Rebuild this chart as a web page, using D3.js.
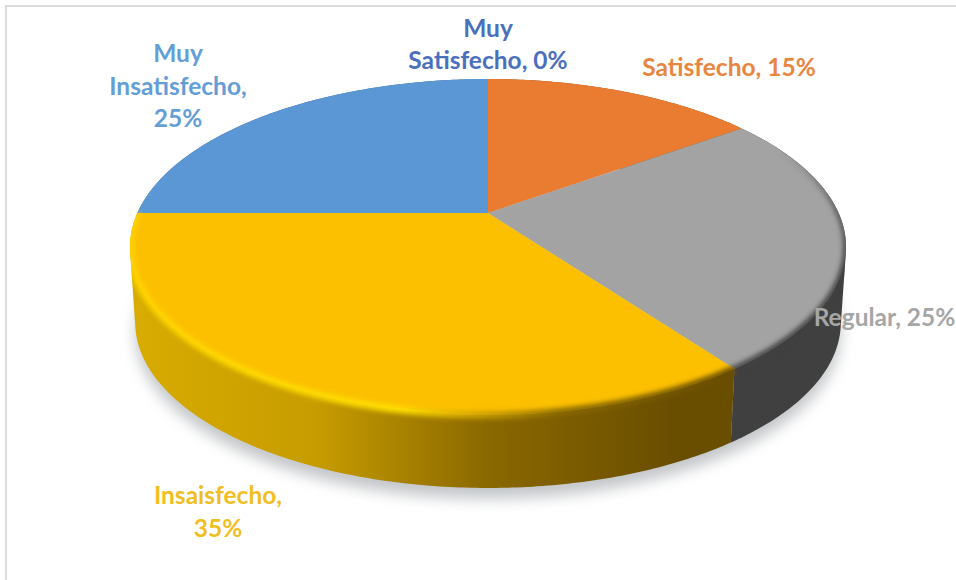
<!DOCTYPE html>
<html>
<head>
<meta charset="utf-8">
<style>
  html, body { margin: 0; padding: 0; background: #fff; overflow: hidden; }
  svg { display: block; }
  text { font-family: Lato, "Open Sans", sans-serif; font-weight: 700; }
</style>
<script src="https://cdn.jsdelivr.net/npm/d3@7/dist/d3.min.js"></script>
</head>
<body>
<svg id="chart" width="956" height="580"></svg>
<script>
// Survey result: satisfaction level, percent of responses
const categories = ["Muy Satisfecho", "Satisfecho", "Regular", "Insaisfecho", "Muy Insatisfecho"];
const percentages = [0, 15, 25, 35, 25];

// Slice and label colours, in category order
const sliceColors = ["#4472c4", "#e97c30", "#a3a3a3", "#fcc000", "#5b97d5"];
const labelColors = ["#4a6fbd", "#e8853f", "#a6a6a6", "#f1be22", "#649ed6"];
// Shading along the outer wall, left to right
const wallRamps = [
  ["#2f4f88", "#2f4f88"],
  ["#8a4a1c", "#8a4a1c"],
  ["#4a4a4a", "#474747", "#404040", "#404040"],
  ["#d8ac00", "#c79c00", "#8a6800", "#6a4e00"],
  ["#3f6a96", "#3f6a96"]
];

// Label placement: centre x, first baseline, words per line
const labelPlacement = [
  { x: 488, y: 36.5, words: [1, 2] },
  { x: 729, y: 76, words: [2] },
  { x: 884.5, y: 326, words: [2] },
  { x: 218, y: 504, words: [1, 1] },
  { x: 178, y: 62, words: [1, 1, 1] }
];
const lineHeight = 32.5;

const svg = d3.select("#chart");
const defs = svg.append("defs");

// Flat circle seen in perspective: far side shrinks, near side grows
const tilt = 0.2024;
const topFace = { cx: 488, cy: 213, a: 350.6, b: 161.1 };
const baseRim = { cx: 488, cy: 289, a: 345.5, b: 158.7 };
const project = (angle, g) => {
  const u = Math.sin(angle), v = Math.cos(angle), w = 1 + tilt * v;
  return [g.cx + g.a * u / w, g.cy - g.b * v / w];
};
const arcPoints = (a0, a1, g) => {
  const n = Math.max(1, Math.ceil(Math.abs(a1 - a0) / 0.01));
  return d3.range(n + 1).map(i => project(a0 + (a1 - a0) * i / n, g));
};
const line = d3.line();

const slices = d3.pie().sort(null).value(d => d)(percentages);
const fullCircle = g => line(arcPoints(0, 2 * Math.PI, g)) + "Z";
const sliceShape = s => line([[topFace.cx, topFace.cy], ...arcPoints(s.startAngle, s.endAngle, topFace)]) + "Z";

// Wall outline as one compound path of quads wound the same way,
// so the non-zero fill gives a seamless closed silhouette
const wallShape = s => {
  const span = s.endAngle - s.startAngle;
  if (span === 0) return "";
  const n = Math.ceil(span / 0.012);
  return d3.range(n).map(i => {
    const a0 = s.startAngle + span * i / n, a1 = s.startAngle + span * (i + 1) / n;
    const quad = [project(a0, topFace), project(a1, topFace), project(a1, baseRim), project(a0, baseRim)];
    if (d3.polygonArea(quad) < 0) quad.reverse();
    return line(quad) + "Z";
  }).join("");
};

// Filters
const soft = defs.append("filter").attr("id", "soft").attr("x", "-20%").attr("y", "-20%").attr("width", "140%").attr("height", "140%");
soft.append("feGaussianBlur").attr("stdDeviation", 7);
const edgeBlur = defs.append("filter").attr("id", "edgeBlur").attr("filterUnits", "userSpaceOnUse")
  .attr("x", 0).attr("y", 0).attr("width", 956).attr("height", 580);
edgeBlur.append("feGaussianBlur").attr("stdDeviation", 2.6);

// Wall gradients run horizontally across the whole disc
const xGrad = d3.scaleLinear().domain([0, 1]).range([130, 846]);
wallRamps.forEach((ramp, i) => {
  const g = defs.append("linearGradient").attr("id", "wall" + i).attr("gradientUnits", "userSpaceOnUse")
    .attr("x1", xGrad(0)).attr("x2", xGrad(1)).attr("y1", 0).attr("y2", 0);
  const offsets = ramp.length === 4 ? [0, 0.26, 0.5, 0.76] : [0, 1];
  ramp.forEach((c, k) => g.append("stop").attr("offset", offsets[k]).attr("stop-color", c));
});

// Bevel where the yellow face meets its wall: bright on the left, dark on the right
const yellowBevel = defs.append("linearGradient").attr("id", "bevelYellow").attr("gradientUnits", "userSpaceOnUse")
  .attr("x1", 130).attr("x2", 730).attr("y1", 0).attr("y2", 0);
[[0, "#ffd400"], [0.45, "#ffe000"], [0.56, "#d8aa00"], [0.72, "#8a6a00"], [1, "#6a4e00"]]
  .forEach(([o, c]) => yellowBevel.append("stop").attr("offset", o).attr("stop-color", c));
// Dark bevel on the grey face fades out towards the back
const greyBevel = defs.append("linearGradient").attr("id", "bevelGrey").attr("gradientUnits", "userSpaceOnUse")
  .attr("x1", 0).attr("x2", 0).attr("y1", 150).attr("y2", 270);
[[0, 0], [0.5, 0.7], [1, 1]]
  .forEach(([o, a]) => greyBevel.append("stop").attr("offset", o).attr("stop-color", "#3f3f3f").attr("stop-opacity", a));

// Clip for the bevels: face plus wall
const clip = defs.append("clipPath").attr("id", "discClip");
clip.append("path").attr("d", fullCircle(topFace));
slices.forEach(s => clip.append("path").attr("d", wallShape(s)));

// Chart frame, open past the page edges
svg.append("rect").attr("x", 6).attr("y", 6).attr("width", 1200).attr("height", 1200)
  .attr("fill", "none").attr("stroke", "#dcdcdc").attr("stroke-width", 2);

// Soft ground shadow
svg.append("path").attr("d", fullCircle(baseRim)).attr("transform", "translate(0,11)")
  .attr("fill", "#c4c7ca").attr("filter", "url(#soft)");

// Outer wall
svg.append("g").selectAll("path").data(slices).join("path")
  .attr("d", wallShape)
  .attr("fill", (d, i) => `url(#wall${i})`);

// Top faces
svg.append("g").selectAll("path").data(slices).join("path")
  .attr("d", sliceShape)
  .attr("fill", (d, i) => sliceColors[i]);

// Bevels along the front rim of the grey and yellow slices
const bevels = svg.append("g").attr("clip-path", "url(#discClip)").append("g").attr("filter", "url(#edgeBlur)");
[[2, "url(#bevelGrey)", 6], [3, "url(#bevelYellow)", 7]].forEach(([i, paint, width]) => {
  const s = slices[i];
  bevels.append("path")
    .attr("d", line(arcPoints(s.startAngle, s.endAngle, topFace)))
    .attr("fill", "none").attr("stroke", paint).attr("stroke-width", width);
});

// Data labels: "name, value%" wrapped by word count
const labels = svg.append("g").attr("font-size", 24.5).attr("text-anchor", "middle");
categories.forEach((name, i) => {
  const place = labelPlacement[i];
  const tokens = `${name}, ${percentages[i]}%`.split(" ");
  let next = 0;
  const lines = place.words.map(count => {
    const text = tokens.slice(next, next + count).join(" ");
    next += count;
    return text;
  });
  labels.append("text")
    .attr("fill", labelColors[i])
    .selectAll("tspan").data(lines).join("tspan")
    .attr("x", place.x)
    .attr("y", (d, k) => place.y + k * lineHeight)
    .text(d => d);
});
</script>
</body>
</html>
